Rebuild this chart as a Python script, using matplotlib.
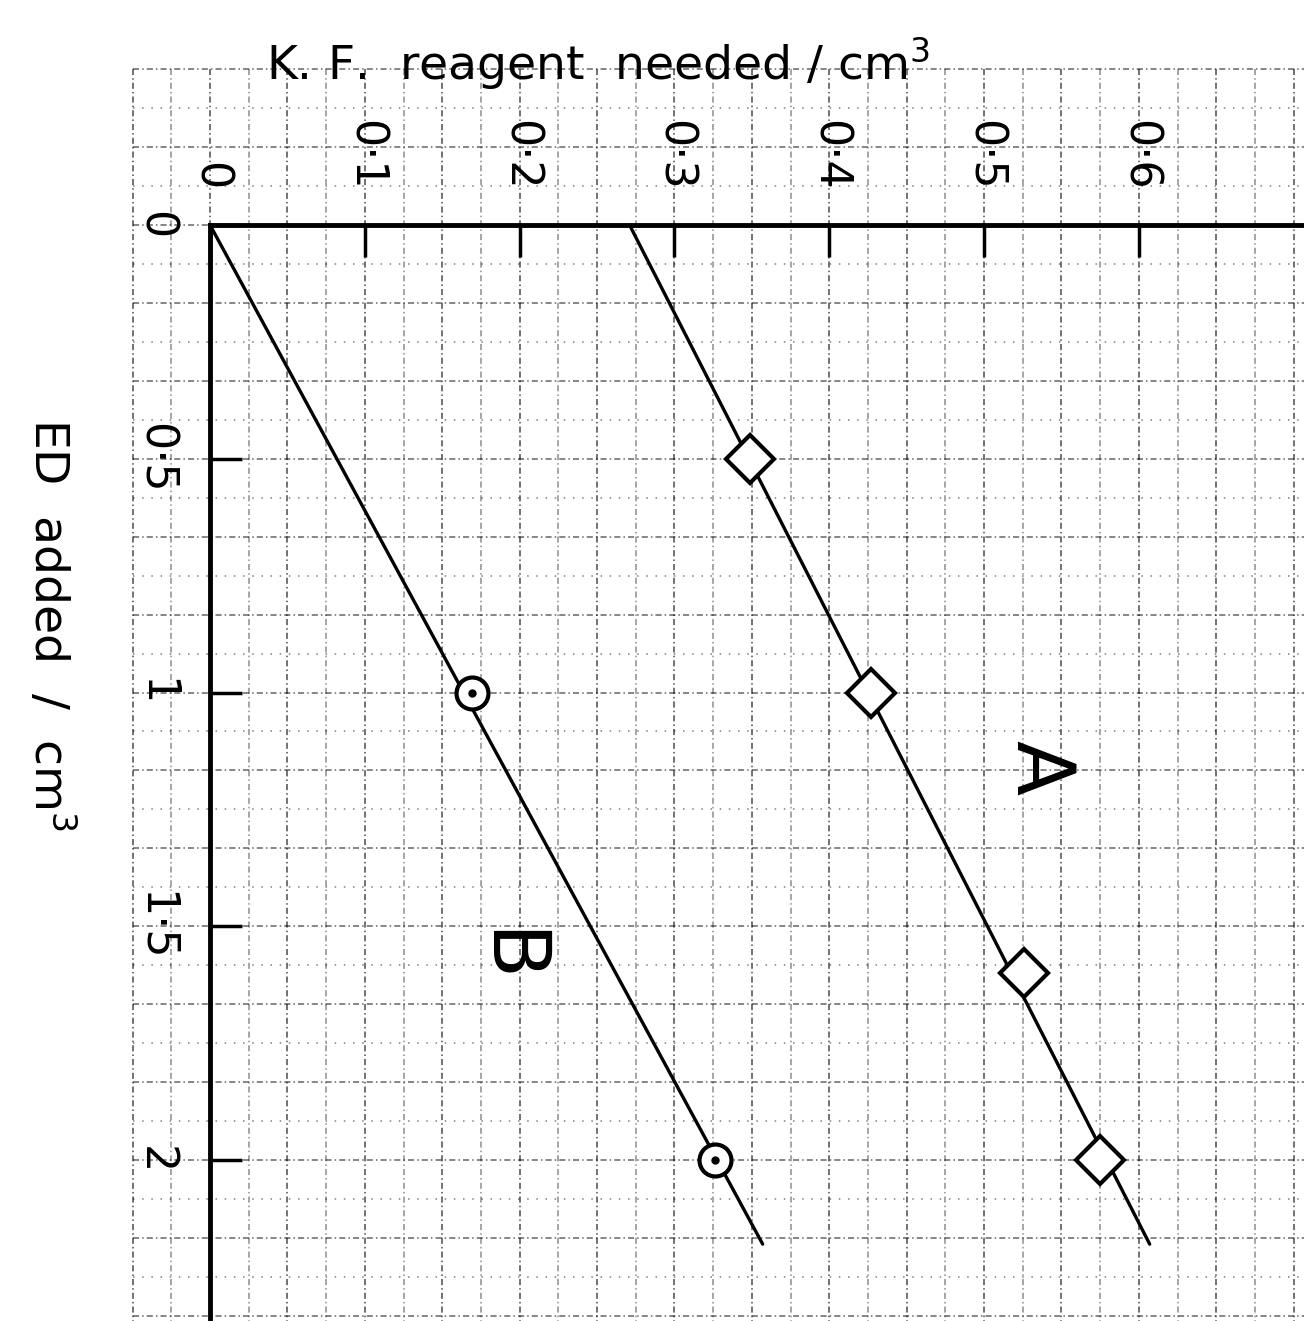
import matplotlib.pyplot as plt
import numpy as np

# ED added (cm3) against K.F. reagent needed (cm3)
ed_A = [0.5, 1.0, 1.6, 2.0]
kf_A = [0.349, 0.427, 0.526, 0.575]
ed_B = [1.0, 2.0]
kf_B = [0.169, 0.326]

# the straight lines as drawn through the points (start and end)
fit_ed = [0.0, 2.18]
fit_A = [0.271, 0.607]
fit_B = [0.0, 0.357]

kf_ticks = [0, 0.1, 0.2, 0.3, 0.4, 0.5, 0.6]
kf_labels = ['0', '0·1', '0·2', '0·3', '0·4', '0·5', '0·6']
ed_ticks = [0, 0.5, 1.0, 1.5, 2.0]
ed_labels = ['0', '0·5', '1', '1·5', '2']

# view window and graph paper
xlim = (-0.1357, 0.7067)
ylim = (2.3444, -0.4813)
cell_x = 0.025
cell_y = 1 / 12

fig = plt.figure(figsize=(13.04, 13.21), dpi=100)
ax = fig.add_axes([0, 0, 1, 1])
ax.set_xlim(*xlim)
ax.set_ylim(*ylim)

# graph paper: denser dashed lines every 2 cells, sparse dotted ones between
kx = np.arange(-2, 29)
ky = np.arange(-4, 29)
gx = kx * cell_x
gy = ky * cell_y
dense = (0, (4, 2, 1, 2))
sparse = (0, (1, 5))
ax.vlines(gx[kx % 2 == 0], gy[0], ylim[0], colors='k', lw=1.1, linestyles=[dense], alpha=0.7, zorder=0)
ax.vlines(gx[kx % 2 == 1], gy[0], ylim[0], colors='k', lw=1.1, linestyles=[dense], alpha=0.45, zorder=0)
ax.hlines(gy[ky % 2 == 0], gx[0], xlim[1], colors='k', lw=1.1, linestyles=[dense], alpha=0.6, zorder=0)
ax.hlines(gy[ky % 2 == 1], gx[0], xlim[1], colors='k', lw=1.1, linestyles=[sparse], alpha=0.5, zorder=0)

# fitted lines
ax.plot(fit_A, fit_ed, color='k', lw=2.4, solid_capstyle='round', zorder=3)
ax.plot(fit_B, fit_ed, color='k', lw=2.4, solid_capstyle='round', zorder=3)

# points
ax.plot(kf_A, ed_A, ls='none', marker='D', ms=24, mfc='white', mec='k', mew=3, zorder=4)
ax.plot(kf_B, ed_B, ls='none', marker='o', ms=23, mfc='white', mec='k', mew=3, zorder=4)
ax.plot(kf_B, ed_B, ls='none', marker='o', ms=5, color='k', zorder=5)

ax.text(0.535, 1.16, 'A', rotation=270, fontsize=58, ha='center', va='center', zorder=4)
ax.text(0.192, 1.564, 'B', rotation=270, fontsize=58, ha='center', va='center', zorder=4)

# axes drawn as on the paper: top and left lines through the origin
for s in ['right', 'bottom']:
    ax.spines[s].set_visible(False)
ax.spines['left'].set_position(('data', 0))
ax.spines['left'].set_bounds(0, ylim[0])
ax.spines['top'].set_position(('data', 0))
ax.spines['top'].set_bounds(0, xlim[1])
for s in ['left', 'top']:
    ax.spines[s].set_linewidth(3.5)
    ax.spines[s].set_zorder(3)

ax.xaxis.tick_top()
ax.set_xticks(kf_ticks, kf_labels)
ax.set_yticks(ed_ticks, ed_labels)
ax.tick_params(axis='x', direction='in', length=23, width=2.5, pad=25, labelsize=32, labelrotation=270)
ax.tick_params(axis='y', direction='in', length=23, width=2.5, pad=24, labelsize=32, labelrotation=270)
for lab in ax.get_yticklabels():
    lab.set_va('center')

ax.set_xlabel('K. F.  reagent  needed / cm$^3$', fontsize=34)
ax.xaxis.set_label_position('top')
ax.xaxis.set_label_coords(0.4586, 0.940)
ax.set_ylabel('ED  added  /  cm$^3$', fontsize=34, rotation=270, ha='center', va='center')
ax.yaxis.set_label_coords(0.0383, 0.527)

fig.savefig('out.png', dpi=100)
